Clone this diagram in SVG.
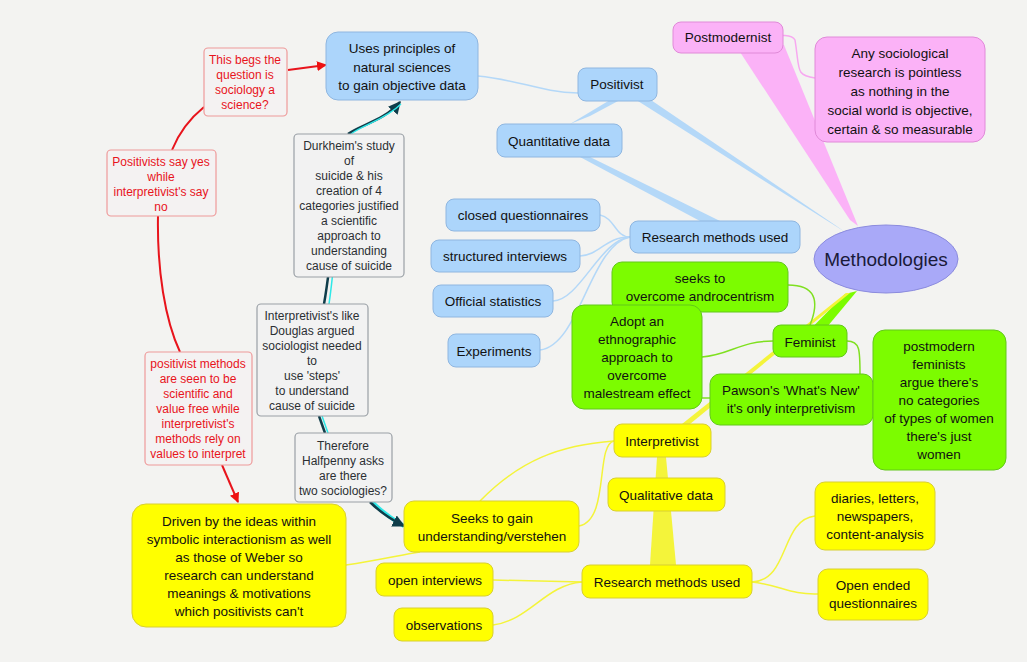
<svg xmlns="http://www.w3.org/2000/svg" width="1027" height="662" viewBox="0 0 1027 662">
<style>
text{font-family:"Liberation Sans",Arial,sans-serif;font-size:13.5px;text-anchor:middle;fill:#111}
.b rect{fill:#acd5fb;stroke:#8fb6e0;stroke-width:1}
.y rect{fill:#ffff00;stroke:#d8cf30;stroke-width:1}
.g rect{fill:#7cfc00;stroke:#62c81a;stroke-width:1}
.p rect{fill:#fbb2f7;stroke:#e08ad8;stroke-width:1}
.r rect{fill:#f4f2f2;stroke:#ee9a9a;stroke-width:1.2}
.r text{fill:#e8141c;font-size:12px}
.n rect{fill:#f2f2f2;stroke:#9aa0a6;stroke-width:1.2}
.n text{fill:#2b2f33;font-size:12px}
.lb{fill:none;stroke:#b4d8f8;stroke-width:1.5}
.ly{fill:none;stroke:#f4f43a;stroke-width:1.5}
.lg{fill:none;stroke:#7fe020;stroke-width:1.5}
.red{fill:none;stroke:#e8141c;stroke-width:2}
</style>
<defs>
<marker id="ar" viewBox="0 0 10 10" refX="9" refY="5" markerWidth="5" markerHeight="5" orient="auto"><path d="M0,0L10,5L0,10z" fill="#ee1111"/></marker>
<marker id="ad" viewBox="0 0 10 10" refX="9" refY="5" markerWidth="5" markerHeight="5" orient="auto"><path d="M0,0L10,5L0,10z" fill="#0f3d4a"/></marker>
</defs>
<rect width="1027" height="662" fill="#f3f3f1"/>
<g id="connectors">
<polygon points="784,45 740,52 850,220 858,226" fill="#fbb2f7"/>
<path d="M731,37 C760,40 790,30 795,40 C800,70 795,75 815,78" class="lb" style="stroke:#f7a8f0"/>
<polygon points="630,96 645,96 835,225 845,232" fill="#b4d8f8"/>
<polygon points="610,100 620,100 590,116 570,124" fill="#b4d8f8"/>
<polygon points="580,157 590,157 720,221 700,221" fill="#b4d8f8"/>
<path d="M478,76 C520,80 540,92 578,93" class="lb"/>
<path d="M630,237 C615,237 615,218 600,215" class="lb"/>
<path d="M630,237 C605,237 600,255 580,256" class="lb"/>
<path d="M630,237 C600,240 580,300 553,301" class="lb"/>
<path d="M630,237 C590,245 580,345 540,350" class="lb"/>
<polygon points="857,291 845,294 795,345 812,345" fill="#7cfc00"/>
<polygon points="850,293 846,293 682,424 690,424" fill="#f4f43a"/>
<path d="M788,285 C815,285 820,300 810,325" class="lg"/>
<path d="M773,341 C740,341 730,355 702,357" class="lg"/>
<path d="M847,341 C860,341 860,350 860,374" class="lg"/>
<path d="M710,398 L702,398" class="lg"/>
<polygon points="657,457 666,457 676,565 650,565" fill="#f4f43a"/>
<path d="M614,441 C560,445 520,460 480,501" class="ly"/>
<path d="M614,441 C595,445 610,520 579,526" class="ly"/>
<path d="M346,565 C380,560 400,555 420,552" class="ly"/>
<path d="M493,580 L582,582" class="ly"/>
<path d="M493,625 C530,620 545,585 582,582" class="ly"/>
<path d="M752,582 C790,580 780,520 815,516" class="ly"/>
<path d="M752,582 C780,585 790,595 818,594" class="ly"/>
<path d="M324,304 C330,270 330,250 338,213" stroke="#0f3d4a" stroke-width="2.5" fill="none"/>
<path d="M329,304 C334,270 334,250 340,213" stroke="#2ee8e8" stroke-width="1.5" fill="none"/>
<path d="M348,134 C360,125 385,120 400,102" stroke="#0f3d4a" stroke-width="2.5" fill="none" marker-end="url(#ad)"/>
<path d="M351,134 C362,125 385,120 401,104" stroke="#2ee8e8" stroke-width="1.3" fill="none"/>
<path d="M319,416 L325,433" stroke="#0f3d4a" stroke-width="2.5" fill="none"/>
<path d="M322,416 L328,433" stroke="#2ee8e8" stroke-width="1.5" fill="none"/>
<path d="M372,502 C380,510 390,518 404,526" stroke="#2ee8e8" stroke-width="4" fill="none"/>
<path d="M370,502 C378,510 388,518 404,526" stroke="#0f3d4a" stroke-width="2.5" fill="none" marker-end="url(#ad)"/>
<path d="M288,70 L326,65" class="red" marker-end="url(#ar)"/>
<path d="M204,107 C188,120 178,135 172,150" class="red"/>
<path d="M158,216 C157,270 165,320 180,352" class="red"/>
<path d="M222,465 L238,502" class="red" marker-end="url(#ar)"/>
</g>
<g id="n-methodologies"><ellipse cx="886" cy="259" rx="72" ry="34" fill="#a9a9f8" stroke="#8b8bde"/><text x="886" y="266" style="font-size:19px;fill:#1a1a3a">Methodologies</text></g>
<g id="n-postmodernist" class="p"><rect x="673" y="22" width="110" height="31" rx="8"/><text x="728" y="42">Postmodernist</text></g>
<g id="n-anysoc" class="p"><rect x="815" y="37" width="170" height="105" rx="12"/><text x="900" y="58">Any sociological</text><text x="900" y="77">research is pointless</text><text x="900" y="96">as nothing in the</text><text x="900" y="115">social world is objective,</text><text x="900" y="134">certain &amp; so measurable</text></g>
<g id="n-positivist" class="b"><rect x="578" y="68" width="79" height="33" rx="8"/><text x="617" y="89">Positivist</text></g>
<g id="n-uses" class="b"><rect x="326" y="32" width="152" height="68" rx="12"/><text x="402" y="53">Uses principles of</text><text x="402" y="72">natural sciences</text><text x="402" y="90">to gain objective data</text></g>
<g id="n-quant" class="b"><rect x="497" y="124" width="125" height="33" rx="8"/><text x="559" y="146">Quantitative data</text></g>
<g id="n-rmu-b" class="b"><rect x="630" y="221" width="170" height="32" rx="8"/><text x="715" y="242">Research methods used</text></g>
<g id="n-closed" class="b"><rect x="446" y="199" width="154" height="32" rx="8"/><text x="523" y="220">closed questionnaires</text></g>
<g id="n-struct" class="b"><rect x="431" y="240" width="149" height="32" rx="8"/><text x="505" y="261">structured interviews</text></g>
<g id="n-official" class="b"><rect x="433" y="285" width="120" height="32" rx="8"/><text x="493" y="306">Official statistics</text></g>
<g id="n-exp" class="b"><rect x="448" y="334" width="92" height="33" rx="8"/><text x="494" y="356">Experiments</text></g>
<g id="n-begs" class="r"><rect x="204" y="48" width="83" height="68" rx="4"/><text x="245" y="64">This begs the</text><text x="245" y="79">question is</text><text x="245" y="94">sociology a</text><text x="245" y="109">science?</text></g>
<g id="n-posyes" class="r"><rect x="107" y="150" width="109" height="66" rx="4"/><text x="161" y="166">Positivists say yes</text><text x="161" y="181">while</text><text x="161" y="196">interpretivist's say</text><text x="161" y="211">no</text></g>
<g id="n-posmeth" class="r"><rect x="145" y="352" width="107" height="113" rx="4"/><text x="198" y="368">positivist methods</text><text x="198" y="383">are seen to be</text><text x="198" y="398">scientific and</text><text x="198" y="413">value free while</text><text x="198" y="428">interpretivist's</text><text x="198" y="443">methods rely on</text><text x="198" y="458">values to interpret</text></g>
<g id="n-durkheim" class="n"><rect x="294" y="134" width="110" height="143" rx="4"/><text x="349" y="150">Durkheim's study</text><text x="349" y="165">of</text><text x="349" y="180">suicide &amp; his</text><text x="349" y="195">creation of 4</text><text x="349" y="210">categories justified</text><text x="349" y="225">a scientific</text><text x="349" y="240">approach to</text><text x="349" y="255">understanding</text><text x="349" y="270">cause of suicide</text></g>
<g id="n-douglas" class="n"><rect x="257" y="304" width="111" height="112" rx="4"/><text x="312" y="320">Interpretivist's like</text><text x="312" y="335">Douglas argued</text><text x="312" y="350">sociologist needed</text><text x="312" y="365">to</text><text x="312" y="380">use 'steps'</text><text x="312" y="395">to understand</text><text x="312" y="410">cause of suicide</text></g>
<g id="n-halfpenny" class="n"><rect x="295" y="433" width="97" height="69" rx="4"/><text x="343" y="450">Therefore</text><text x="343" y="465">Halfpenny asks</text><text x="343" y="480">are there</text><text x="343" y="495">two sociologies?</text></g>
<g id="n-driven" class="y"><rect x="132" y="504" width="214" height="123" rx="14"/><text x="239" y="526">Driven by the ideas within</text><text x="239" y="544">symbolic interactionism as well</text><text x="239" y="562">as those of Weber so</text><text x="239" y="580">research can understand</text><text x="239" y="598">meanings &amp; motivations</text><text x="239" y="616">which positivists can't</text></g>
<g id="n-seeks" class="y"><rect x="404" y="501" width="175" height="51" rx="10"/><text x="492" y="523">Seeks to gain</text><text x="492" y="541">understanding/verstehen</text></g>
<g id="n-openint" class="y"><rect x="376" y="563" width="117" height="33" rx="8"/><text x="435" y="585">open interviews</text></g>
<g id="n-obs" class="y"><rect x="394" y="608" width="99" height="33" rx="8"/><text x="444" y="630">observations</text></g>
<g id="n-rmu-y" class="y"><rect x="582" y="565" width="170" height="33" rx="8"/><text x="667" y="587">Research methods used</text></g>
<g id="n-qual" class="y"><rect x="608" y="478" width="117" height="33" rx="8"/><text x="666" y="500">Qualitative data</text></g>
<g id="n-interp" class="y"><rect x="614" y="424" width="97" height="33" rx="8"/><text x="662" y="446">Interpretivist</text></g>
<g id="n-diaries" class="y"><rect x="815" y="482" width="120" height="68" rx="10"/><text x="875" y="503">diaries, letters,</text><text x="875" y="521">newspapers,</text><text x="875" y="539">content-analysis</text></g>
<g id="n-openended" class="y"><rect x="818" y="569" width="110" height="51" rx="10"/><text x="873" y="590">Open ended</text><text x="873" y="608">questionnaires</text></g>
<g id="n-seeksover" class="g"><rect x="612" y="262" width="176" height="50" rx="10"/><text x="700" y="283">seeks to</text><text x="700" y="301">overcome androcentrism</text></g>
<g id="n-adopt" class="g"><rect x="572" y="305" width="130" height="104" rx="12"/><text x="637" y="326">Adopt an</text><text x="637" y="344">ethnographic</text><text x="637" y="362">approach to</text><text x="637" y="380">overcome</text><text x="637" y="398">malestream effect</text></g>
<g id="n-feminist" class="g"><rect x="773" y="325" width="74" height="32" rx="8"/><text x="810" y="347">Feminist</text></g>
<g id="n-pawson" class="g"><rect x="710" y="374" width="163" height="51" rx="10"/><text x="791" y="395">Pawson's 'What's New'</text><text x="791" y="413">it's only interpretivism</text></g>
<g id="n-pmfem" class="g"><rect x="873" y="330" width="133" height="140" rx="12"/><text x="939" y="351">postmodern</text><text x="939" y="369">feminists</text><text x="939" y="387">argue there's</text><text x="939" y="405">no categories</text><text x="939" y="423">of types of women</text><text x="939" y="441">there's just</text><text x="939" y="459">women</text></g>
</svg>
